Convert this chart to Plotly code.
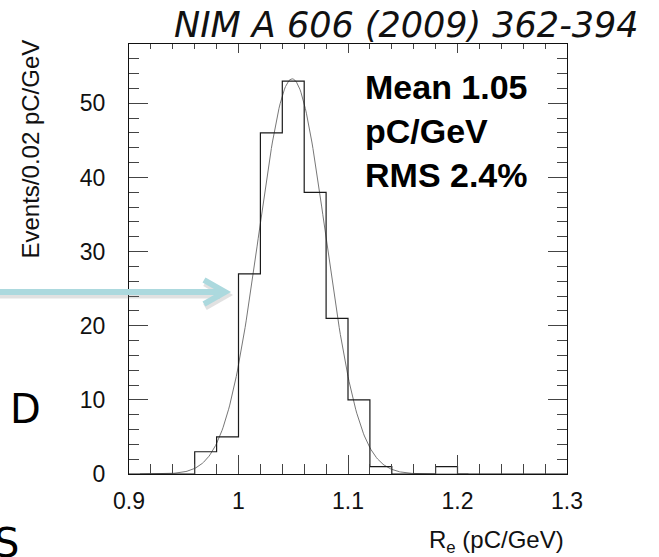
import plotly.graph_objects as go
import math

# ---- data ----
bin_edges = [0.90, 0.92, 0.94, 0.96, 0.98, 1.00, 1.02, 1.04, 1.06, 1.08, 1.10,
             1.12, 1.14, 1.16, 1.18, 1.20, 1.22, 1.24, 1.26, 1.28, 1.30]
counts = [0, 0, 0, 3, 5, 27, 46, 53, 38, 21, 10, 1, 0, 0, 1, 0, 0, 0, 0, 0]

# Gaussian fit parameters (as drawn)
fit_amp = 53.3
fit_mean = 1.049
fit_sigma = 0.0305
fit_xmin, fit_xmax = 0.91, 1.21

x_ticks = [0.9, 1.0, 1.1, 1.2, 1.3]
x_ticklabels = ["0.9", "1", "1.1", "1.2", "1.3"]
y_ticks = [0, 10, 20, 30, 40, 50]

title_text = "NIM A 606 (2009) 362-394"
stats_text = "Mean 1.05<br>pC/GeV<br>RMS 2.4%"

n_fit = 301
fit_x = [fit_xmin + (fit_xmax - fit_xmin) * i / (n_fit - 1) for i in range(n_fit)]
fit_y = [fit_amp * math.exp(-0.5 * ((x - fit_mean) / fit_sigma) ** 2) for x in fit_x]

W, H = 659, 557
L, R, T, B = 129, 567, 44, 474  # plot-area pixel box


def px(xp):
    return (xp - L) / (R - L)


def py(yp):
    return (B - yp) / (B - T)


fig = go.Figure()
fig.add_trace(go.Scatter(x=fit_x, y=fit_y, mode="lines",
                         line=dict(color="#777777", width=1), hoverinfo="skip"))
fig.add_trace(go.Scatter(x=bin_edges, y=counts + [counts[-1]], mode="lines",
                         line=dict(color="#1a1a1a", width=1.2, shape="hv"),
                         hoverinfo="skip"))
# invisible trace to realise the top axis
fig.add_trace(go.Scatter(x=[bin_edges[0]], y=[0], xaxis="x2", mode="markers",
                         marker=dict(opacity=0), hoverinfo="skip", showlegend=False))

tick_font = dict(family="Liberation Sans, Arial, sans-serif", size=23, color="#111111")

fig.update_layout(
    width=W, height=H,
    margin=dict(l=L, r=W - R, t=T, b=H - B, pad=0),
    paper_bgcolor="white", plot_bgcolor="white",
    showlegend=False,
    xaxis=dict(range=[0.9, 1.3], tickvals=x_ticks, ticktext=x_ticklabels,
               ticks="inside", ticklen=19, tickwidth=1, tickcolor="#444444",
               minor=dict(dtick=0.02, tick0=0.9, ticks="inside", ticklen=10,
                          tickcolor="#444444", tickwidth=1),
               showline=True, linecolor="#111111", linewidth=1.3,
               showgrid=False, zeroline=False, tickfont=tick_font,
               ticklabelstandoff=6),
    xaxis2=dict(range=[0.9, 1.3], overlaying="x", side="top",
                tickvals=x_ticks, ticks="inside", ticklen=9, tickwidth=1,
                tickcolor="#444444",
                minor=dict(dtick=0.02, tick0=0.9, ticks="inside", ticklen=5,
                           tickcolor="#444444", tickwidth=1),
                showticklabels=False, showline=True, linecolor="#111111",
                linewidth=1.3, showgrid=False, zeroline=False),
    yaxis=dict(range=[0, 58], tickvals=y_ticks,
               ticks="inside", ticklen=19, tickwidth=1, tickcolor="#444444",
               minor=dict(dtick=2, tick0=0, ticks="inside", ticklen=10,
                          tickcolor="#444444", tickwidth=1),
               showline=True, linecolor="#111111", linewidth=1.3, mirror="ticks",
               showgrid=False, zeroline=False, tickfont=tick_font,
               ticklabelstandoff=18),
)

annots = [
    dict(text=title_text, x=px(641), y=py(25), xref="paper", yref="paper",
         xanchor="right", yanchor="middle", showarrow=False,
         font=dict(family="DejaVu Sans, sans-serif", size=35, color="#111111",
                   style="italic")),
    dict(text=stats_text, x=px(363), y=py(66), xref="paper", yref="paper",
         xanchor="left", yanchor="top", align="left", showarrow=False,
         font=dict(family="Liberation Sans, Arial, sans-serif", size=34,
                   color="#000000", weight="bold")),
    dict(text="R<sub>e</sub> (pC/GeV)", x=px(566), y=py(541), xref="paper",
         yref="paper", xanchor="right", yanchor="middle", showarrow=False,
         font=dict(family="Liberation Sans, Arial, sans-serif", size=24,
                   color="#111111")),
    dict(text="Events/0.02 pC/GeV", x=px(30), y=py(38), xref="paper",
         yref="paper", xanchor="center", yanchor="top", textangle=-90,
         showarrow=False,
         font=dict(family="Liberation Sans, Arial, sans-serif", size=24,
                   color="#111111")),
    dict(text="D", x=px(25), y=py(409), xref="paper", yref="paper",
         xanchor="center", yanchor="middle", showarrow=False,
         font=dict(family="DejaVu Sans, sans-serif", size=40, color="#000000")),
    dict(text="S", x=px(6), y=py(543), xref="paper", yref="paper",
         xanchor="center", yanchor="middle", showarrow=False,
         font=dict(family="DejaVu Sans, sans-serif", size=40, color="#000000")),
]
fig.update_layout(annotations=annots)

arrow_col = "#acd9de"
shadow_col = "rgba(120,120,120,0.22)"
ay = py(292)
shapes = [
    # shadow
    dict(type="line", xref="paper", yref="paper", x0=px(0), x1=px(220),
         y0=py(295), y1=py(295), line=dict(color=shadow_col, width=7), layer="above"),
    dict(type="path", xref="paper", yref="paper",
         path=f"M {px(205)},{py(283)} L {px(226)},{py(295)} L {px(205)},{py(307)}",
         line=dict(color=shadow_col, width=7), layer="above"),
    # arrow
    dict(type="line", xref="paper", yref="paper", x0=px(0), x1=px(221),
         y0=ay, y1=ay, line=dict(color=arrow_col, width=6), layer="above"),
    dict(type="path", xref="paper", yref="paper",
         path=f"M {px(204)},{py(280)} L {px(225)},{ay} L {px(204)},{py(304)}",
         line=dict(color=arrow_col, width=6), layer="above"),
]
fig.update_layout(shapes=shapes)

fig.write_html("out.html", config={"displayModeBar": False},
               post_script="document.body.style.margin='0';document.body.style.overflow='hidden';")
